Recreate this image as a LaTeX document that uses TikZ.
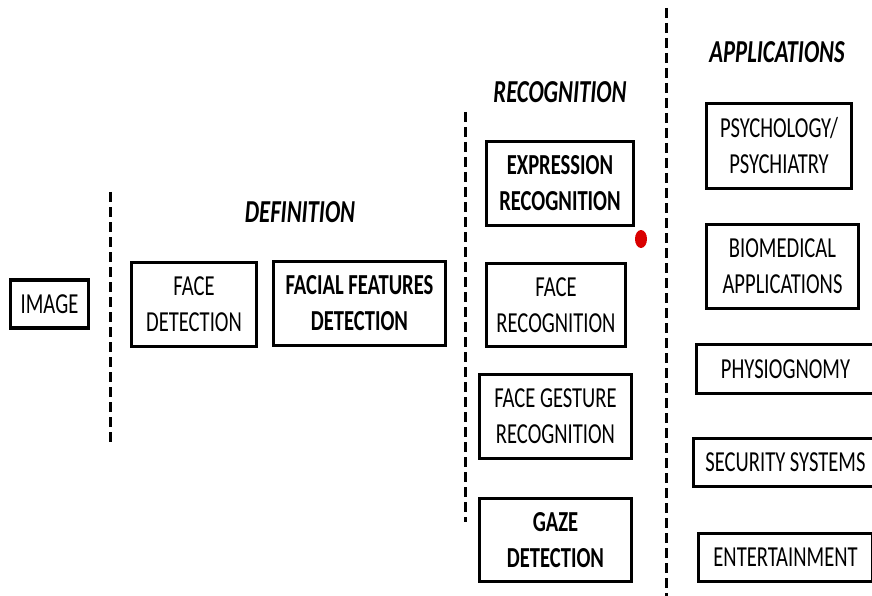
\documentclass[tikz,border=0pt]{standalone}
\usepackage{fontspec}
\setmainfont{Carlito}[FakeStretch=0.71]
\begin{document}
\begin{tikzpicture}[x=1pt,y=-1pt,
  box/.style={draw=black,line width=3.4pt,inner sep=0pt,align=center,
    font=\fontsize{29}{36}\selectfont},
  boldbox/.style={box,font=\fontsize{29}{36}\selectfont\bfseries},
  heading/.style={inner sep=0pt,font=\fontsize{32}{36}\selectfont\bfseries\itshape},
  sep/.style={line width=3pt,dash pattern=on 10pt off 5pt}]
\useasboundingbox (0,0) rectangle (872,596);
\clip (0,0) rectangle (872,596);

% column separators
\draw[sep] (110,192) -- (110,444);
\draw[sep] (465,112) -- (465,522);
\draw[sep] (666,8) -- (666,600);

% headings
\node[heading] (hdef) at (300,212) {DEFINITION};
\node[heading] (hrec) at (560,92) {RECOGNITION};
\node[heading] (happ) at (777,52) {APPLICATIONS};

% input
\node[box,minimum width=78pt,minimum height=48pt] (image) at (49.5,304) {IMAGE};

% definition stage
\node[box,minimum width=125pt,minimum height=84pt] (facedet) at (194,304.5) {FACE\\DETECTION};
\node[boldbox,minimum width=172pt,minimum height=84pt] (featdet) at (359.5,303.5) {FACIAL FEATURES\\DETECTION};

% recognition stage
\node[boldbox,minimum width=147pt,minimum height=84pt] (expr) at (560,183.5) {EXPRESSION\\RECOGNITION};
\node[box,minimum width=139pt,minimum height=83pt] (facerec) at (556,305) {FACE\\RECOGNITION};
\node[box,minimum width=152pt,minimum height=84pt] (gesture) at (555.5,416.5) {FACE GESTURE\\RECOGNITION};
\node[boldbox,minimum width=152pt,minimum height=83pt] (gaze) at (555.5,540) {GAZE\\DETECTION};
\fill[red!85!black] (641,239) ellipse (6pt and 9pt);

% applications
\node[box,minimum width=145pt,minimum height=85pt] (psych) at (779,146) {PSYCHOLOGY/\\PSYCHIATRY};
\node[box,minimum width=152pt,minimum height=84pt] (biomed) at (782.5,266.5) {BIOMEDICAL\\APPLICATIONS};
\node[box,minimum width=178pt,minimum height=49pt] (physio) at (785.5,369) {PHYSIOGNOMY};
\node[box,minimum width=184pt,minimum height=48pt] (secur) at (785.5,462.5) {SECURITY SYSTEMS};
\node[box,minimum width=174pt,minimum height=48pt] (enter) at (785.5,557.5) {ENTERTAINMENT};
\end{tikzpicture}
\end{document}
